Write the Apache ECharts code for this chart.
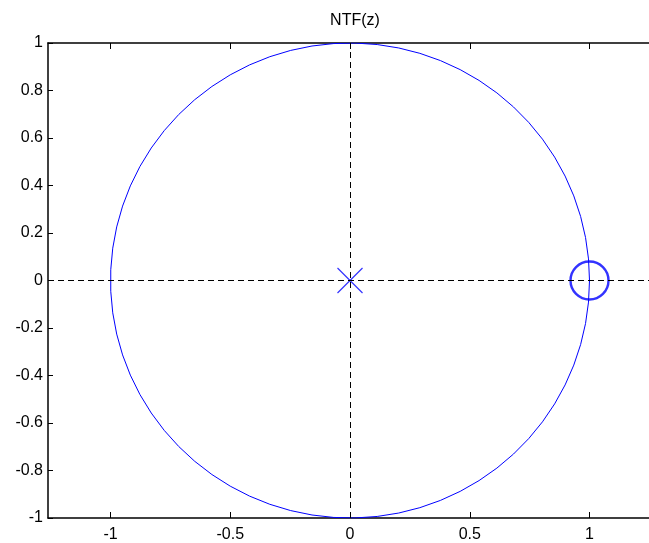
<!DOCTYPE html>
<html>
<head>
<meta charset="utf-8">
<script src="https://cdn.jsdelivr.net/npm/echarts@6/dist/echarts.min.js"></script>
<style>html,body{margin:0;padding:0;background:#fff;overflow:hidden;width:649px;height:543px}#c{width:670px;height:543px}</style>
</head>
<body>
<div id="c"></div>
<script>
// Data
const titleText = 'NTF(z)';
const zeros = [[1, 0]];
const poles = [[0, 0]];
const xTicks = [-1, -0.5, 0, 0.5, 1];
const yTicks = [-1, -0.8, -0.6, -0.4, -0.2, 0, 0.2, 0.4, 0.6, 0.8, 1];
const xRange = [-1.261, 1.286];
const yRange = [-1, 1];
// Reference unit circle (MATLAB zplane draws it as a polygon of 70 points)
const unitCirclePoints = 70;
const unitCircle = [];
for (let i = 0; i < unitCirclePoints; i++) {
  const t = 2 * Math.PI * i / (unitCirclePoints - 1);
  unitCircle.push([Math.cos(t), Math.sin(t)]);
}

const fontFamily = 'Liberation Sans, Arial, sans-serif';
const chart = echarts.init(document.getElementById('c'), null, {renderer: 'canvas'});
const fmt = v => String(Math.round(v * 10) / 10);
const axisLineStyle = {color: '#000', width: 1.5};

chart.setOption({
  animation: false,
  backgroundColor: '#fff',
  title: {
    text: titleText, left: 350, top: 8, textAlign: 'center',
    textStyle: {fontFamily, fontSize: 16, fontWeight: 'normal', color: '#000'}
  },
  grid: {left: 48, top: 43, width: 610, height: 477, containLabel: false},
  xAxis: [{
    type: 'value', min: xRange[0], max: xRange[1], position: 'bottom',
    axisLine: {show: true, onZero: false, lineStyle: axisLineStyle},
    axisTick: {show: true, inside: true, length: 6, customValues: xTicks, lineStyle: {color: '#000', width: 1}},
    axisLabel: {show: true, customValues: xTicks, formatter: fmt, margin: 9, color: '#000', fontFamily, fontSize: 16},
    splitLine: {show: false}
  }, {
    type: 'value', min: xRange[0], max: xRange[1], position: 'top',
    axisLine: {show: true, onZero: false, lineStyle: axisLineStyle},
    axisTick: {show: true, inside: true, length: 6, customValues: xTicks, lineStyle: {color: '#000', width: 1}},
    axisLabel: {show: false},
    splitLine: {show: false}
  }],
  yAxis: [{
    type: 'value', min: yRange[0], max: yRange[1], position: 'left',
    axisLine: {show: true, onZero: false, lineStyle: axisLineStyle},
    axisTick: {show: true, inside: true, length: 5, customValues: yTicks, lineStyle: {color: '#000', width: 1}},
    axisLabel: {show: true, customValues: yTicks, formatter: fmt, margin: 5, color: '#000', fontFamily, fontSize: 16},
    splitLine: {show: false}
  }],
  series: [{
    type: 'line', data: unitCircle, showSymbol: false, symbol: 'none',
    lineStyle: {color: '#0000ff', width: 1}, z: 3,
    markLine: {
      silent: true, symbol: ['none', 'none'], label: {show: false},
      lineStyle: {color: '#000', type: [6, 4], width: 1},
      data: [{xAxis: 0}, {yAxis: 0}]
    }
  }, {
    type: 'scatter', data: zeros, symbol: 'circle', symbolSize: 38, z: 4,
    itemStyle: {color: 'rgba(0,0,0,0)', borderColor: '#0000ff', borderWidth: 2.4}
  }, {
    type: 'scatter', data: poles, symbol: 'path://M0,0L10,10M10,0L0,10', symbolSize: 25, z: 4,
    itemStyle: {color: 'rgba(0,0,0,0)', borderColor: '#0000ff', borderWidth: 1.2}
  }]
});
</script>
</body>
</html>
